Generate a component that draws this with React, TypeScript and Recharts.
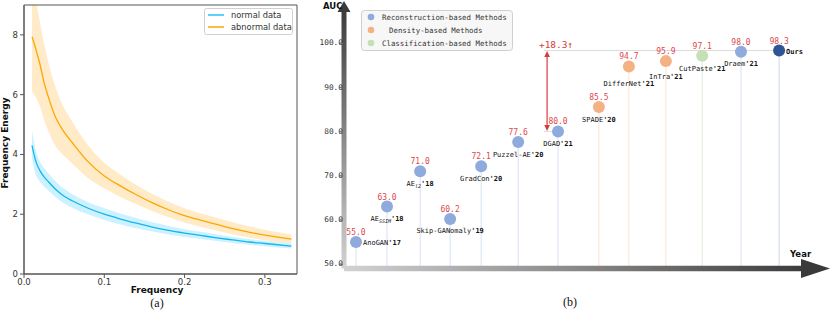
import React from 'react';
import { ComposedChart, Area, Line, XAxis, YAxis, ReferenceArea, ReferenceLine, ReferenceDot, Scatter } from 'recharts';

// ---------- Panel (a) data ----------
const freq = [0.01, 0.015, 0.02, 0.025, 0.03, 0.04, 0.05, 0.06, 0.08, 0.1, 0.12, 0.14, 0.16, 0.18, 0.2, 0.22, 0.24, 0.26, 0.28, 0.3, 0.333];
const normalMean = [4.3, 3.75, 3.45, 3.25, 3.1, 2.82, 2.6, 2.45, 2.2, 2.0, 1.84, 1.7, 1.57, 1.46, 1.37, 1.29, 1.21, 1.14, 1.07, 1.02, 0.93];
const normalUpper = [4.8, 4.1, 3.75, 3.55, 3.38, 3.08, 2.85, 2.68, 2.4, 2.2, 2.02, 1.87, 1.73, 1.61, 1.5, 1.41, 1.32, 1.24, 1.17, 1.11, 1.02];
const normalLower = [3.85, 3.3, 3.08, 2.93, 2.8, 2.55, 2.36, 2.22, 1.99, 1.81, 1.66, 1.53, 1.42, 1.32, 1.24, 1.17, 1.1, 1.04, 0.98, 0.93, 0.85];
const abnormalMean = [7.94, 7.5, 7.0, 6.4, 5.95, 5.2, 4.75, 4.4, 3.75, 3.28, 2.95, 2.65, 2.38, 2.15, 1.95, 1.8, 1.66, 1.52, 1.4, 1.3, 1.17];
const abnormalUpper = [9.8, 9.1, 8.4, 7.7, 7.1, 6.2, 5.55, 5.1, 4.3, 3.72, 3.33, 2.98, 2.68, 2.42, 2.2, 2.03, 1.88, 1.73, 1.6, 1.48, 1.33];
const abnormalLower = [6.1, 5.9, 5.6, 5.15, 4.8, 4.25, 3.95, 3.7, 3.2, 2.86, 2.58, 2.33, 2.1, 1.9, 1.72, 1.58, 1.45, 1.33, 1.22, 1.13, 1.02];
const xTicksA = [0, 0.1, 0.2, 0.3];
const yTicksA = [0, 2, 4, 6, 8];
const seriesNamesA = ['normal data', 'abnormal data'];

// ---------- Panel (b) data ----------
const methods = ['AnoGAN', 'AE_SSIM', 'AE_l2', 'Skip-GANomaly', 'GradCon', 'Puzzel-AE', 'DGAD', 'SPADE', 'DifferNet', 'InTra', 'CutPaste', 'Draem', 'Ours'];
const years = ["'17", "'18", "'18", "'19", "'20", "'20", "'21", "'20", "'21", "'21", "'21", "'21", ''];
const aucScores = [55.0, 63.0, 71.0, 60.2, 72.1, 77.6, 80.0, 85.5, 94.7, 95.9, 97.1, 98.0, 98.3];
const families = ['rec', 'rec', 'rec', 'rec', 'rec', 'rec', 'rec', 'den', 'den', 'den', 'cls', 'rec', 'ours'];
const timeline = [0, 0.88, 1.82, 2.67, 3.55, 4.6, 5.73, 6.89, 7.74, 8.79, 9.82, 10.92, 12];
const yTicksB = [50, 55, 60, 65, 70, 75, 80, 85, 90, 95, 100];
const legendB = ['Reconstruction-based Methods', 'Density-based Methods', 'Classification-based Methods'];

// ---------- styles ----------
const MONO = "'DejaVu Sans Mono', monospace";
const SANS = "'DejaVu Sans', sans-serif";
const SERIF = "'Liberation Serif', 'DejaVu Serif', serif";
const BLUE = '#13b4ef';
const ORANGE = '#ffa500';
const famColor: Record<string, string> = { rec: '#8faadc', den: '#f4b183', cls: '#c5e0b4', ours: '#2f5597' };
const stemColor: Record<string, string> = { rec: '#d6e0f3', den: '#fbe3d2', cls: '#deeed6', ours: '#c8d4ec' };
const RED = '#e0474c';
const AXIS_DARK = '#3a3a3a';
const Y_MIN_B = 48.98;
const Y_MAX_B = 107.24;
const X_MIN_B = -0.34;
const X_MAX_B = 12.65;
const rightLabelled = new Set(['AnoGAN', 'Ours']);
const nameShiftY: Record<string, number> = { DifferNet: 5.5, InTra: 3, CutPaste: 0.5 };

const dataA = freq.map((f, i) => ({
  f,
  nm: normalMean[i],
  nb: [normalLower[i], normalUpper[i]],
  am: abnormalMean[i],
  ab: [abnormalLower[i], abnormalUpper[i]],
}));

const dataB = methods.map((m, i) => ({
  name: m,
  year: years[i],
  auc: aucScores[i],
  fam: families[i],
  x: timeline[i],
}));

const ChartA = () => (
  <ComposedChart width={310} height={311} data={dataA} margin={{ top: 5, right: 13, bottom: 17, left: 0 }}>
    <XAxis
      dataKey="f"
      type="number"
      domain={[0, 0.34]}
      allowDataOverflow
      ticks={xTicksA}
      tickFormatter={(v: number) => v.toFixed(1)}
      height={20}
      tickSize={4}
      tickMargin={1}
      stroke="#555"
      tick={{ fontSize: 8.5, fill: '#333', fontFamily: SANS }}
    />
    <YAxis
      type="number"
      domain={[0, 9]}
      allowDataOverflow
      ticks={yTicksA}
      width={24}
      tickSize={4}
      tickMargin={2}
      stroke="#555"
      tick={{ fontSize: 8.5, fill: '#333', fontFamily: SANS }}
    />
    <Area dataKey="ab" type="monotone" fill={ORANGE} fillOpacity={0.22} stroke="none" isAnimationActive={false} />
    <Area dataKey="nb" type="monotone" fill="#00bfff" fillOpacity={0.2} stroke="none" isAnimationActive={false} />
    <Line dataKey="am" type="monotone" stroke={ORANGE} strokeWidth={1.3} dot={false} isAnimationActive={false} />
    <Line dataKey="nm" type="monotone" stroke={BLUE} strokeWidth={1.3} dot={false} isAnimationActive={false} />
    <ReferenceArea x1={0} x2={0.34} y1={0} y2={9} fill="none" stroke="#555" strokeWidth={1} ifOverflow="visible" />
  </ComposedChart>
);

const YTickB = (props: any) => {
  const { x, y, payload } = props;
  const v = payload.value as number;
  const major = v % 10 === 0;
  return (
    <g>
      <line x1={x - (major ? 4 : 3)} x2={x} y1={y + 0.5} y2={y + 0.5} stroke="#999" strokeWidth={1} />
      {major && (
        <text x={x} y={y} dy="0.3em" textAnchor="end" fontSize={7.8} fontFamily={MONO} fill="#333">
          {v.toFixed(1)}
        </text>
      )}
    </g>
  );
};

const PointShape = (props: any) => {
  const { cx, cy, payload } = props;
  if (cx == null || cy == null) return null;
  const color = famColor[payload.fam];
  const [base, sub] = String(payload.name).split('_');
  const right = rightLabelled.has(payload.name);
  const isOurs = payload.fam === 'ours';
  const shift = nameShiftY[payload.name] || 0;
  return (
    <g>
      <circle cx={cx} cy={cy} r={6} fill={color} />
      <text x={cx} y={cy - 7} textAnchor="middle" fontSize={8} fontFamily={MONO} fill={RED}>
        {payload.auc.toFixed(1)}
      </text>
      <text
        x={right ? cx + 7 : cx}
        y={right ? cy + 3 : cy + 14.5 + shift}
        textAnchor={right ? 'start' : 'middle'}
        fontSize={7}
        fontFamily={MONO}
        fill="#111"
        fontWeight={isOurs ? 'bold' : 'normal'}
      >
        <tspan>{base}</tspan>
        {sub && (
          <tspan fontSize={5} fontStyle="italic" dy={2}>
            {sub}
          </tspan>
        )}
        {payload.year && (
          <tspan fontWeight="bold" dy={sub ? -2 : 0}>
            {payload.year}
          </tspan>
        )}
      </text>
    </g>
  );
};

const gapLabel = `+${(aucScores[12] - aucScores[6]).toFixed(1)}\u2191`;

const GapArrow = (p: any) => {
  const { x1, y1, y2 } = p;
  const top = Math.min(y1, y2);
  const bot = Math.max(y1, y2);
  const c = '#d63b3b';
  return (
    <g>
      <line x1={x1} x2={x1} y1={top + 3} y2={bot - 3} stroke={c} strokeWidth={1.2} />
      <path d={`M${x1 - 2.8},${top + 6.5} L${x1},${top + 0.5} L${x1 + 2.8},${top + 6.5} Z`} fill={c} />
      <path d={`M${x1 - 2.8},${bot - 6.5} L${x1},${bot - 0.5} L${x1 + 2.8},${bot - 6.5} Z`} fill={c} />
      <text x={x1 + 9} y={top - 3} textAnchor="middle" fontSize={9.5} fontFamily={MONO} fill={c}>
        {gapLabel}
      </text>
    </g>
  );
};

const ArrowHeadUp = (p: any) => {
  const { cx, cy } = p;
  if (cx == null || cy == null) return null;
  return <path d={`M${cx - 6.5},${cy + 1} L${cx},${cy - 10} L${cx + 6.5},${cy + 1} Z`} fill={AXIS_DARK} />;
};

const ArrowHeadRight = (p: any) => {
  const { cx, cy } = p;
  if (cx == null || cy == null) return null;
  return <path d={`M${cx - 1},${cy - 9.5} L${cx + 28},${cy} L${cx - 1},${cy + 9.5} Z`} fill={AXIS_DARK} />;
};

const ChartB = () => (
  <ComposedChart width={521} height={311} margin={{ top: 11, right: 29, bottom: 42.5, left: 0 }}>
    <XAxis dataKey="x" type="number" domain={[X_MIN_B, X_MAX_B]} hide />
    <YAxis
      dataKey="auc"
      type="number"
      domain={[Y_MIN_B, Y_MAX_B]}
      ticks={yTicksB}
      width={34}
      tickSize={0}
      tickMargin={1}
      tickLine={false}
      tick={<YTickB />}
      axisLine={{ stroke: 'url(#gradY)', strokeWidth: 5 }}
    />
    {dataB.map((d) => (
      <ReferenceLine
        key={'stem' + d.name}
        segment={[{ x: d.x, y: Y_MIN_B }, { x: d.x, y: d.auc }]}
        stroke={stemColor[d.fam]}
        strokeWidth={1}
      />
    ))}
    <ReferenceLine y={Y_MIN_B} stroke="url(#gradX)" strokeWidth={5.5} ifOverflow="visible" />
    <ReferenceDot x={X_MAX_B} y={Y_MIN_B} ifOverflow="visible" shape={<ArrowHeadRight />} />
    <ReferenceDot x={X_MIN_B} y={Y_MAX_B} ifOverflow="visible" shape={<ArrowHeadUp />} />
    <ReferenceLine
      segment={[{ x: 5.33, y: aucScores[12] }, { x: timeline[12], y: aucScores[12] }]}
      stroke="#dcdcdc"
      strokeWidth={1}
    />
    <ReferenceLine
      segment={[{ x: 5.33, y: aucScores[6] }, { x: timeline[6], y: aucScores[6] }]}
      stroke="#dcdcdc"
      strokeWidth={1}
    />
    <ReferenceLine
      segment={[{ x: 5.42, y: aucScores[12] }, { x: 5.42, y: aucScores[6] }]}
      shape={<GapArrow />}
    />
    <Scatter data={dataB} shape={<PointShape />} isAnimationActive={false} />
  </ComposedChart>
);

export default function App() {
  return (
    <div style={{ position: 'absolute', left: 0, top: 0, width: 831, height: 311, background: '#fff', overflow: 'hidden' }}>
      <svg width={0} height={0} style={{ position: 'absolute', left: 0, top: 0 }}>
        <defs>
          <linearGradient id="gradX" gradientUnits="userSpaceOnUse" x1={34} y1={0} x2={492} y2={0}>
            <stop offset="0" stopColor="#d2d2d2" />
            <stop offset="0.5" stopColor="#8a8a8a" />
            <stop offset="1" stopColor="#3c3c3c" />
          </linearGradient>
          <linearGradient id="gradY" gradientUnits="userSpaceOnUse" x1={0} y1={11} x2={0} y2={268}>
            <stop offset="0" stopColor="#3c3c3c" />
            <stop offset="0.5" stopColor="#8a8a8a" />
            <stop offset="1" stopColor="#d2d2d2" />
          </linearGradient>
        </defs>
      </svg>
      <div style={{ position: 'absolute', left: 0, top: 0 }}>
        <ChartA />
      </div>
      <div style={{ position: 'absolute', left: 310, top: 0 }}>
        <ChartB />
      </div>
      <svg width={831} height={311} style={{ position: 'absolute', left: 0, top: 0, pointerEvents: 'none' }}>
        {/* Panel (a) texts and legend */}
        <text x={157} y={293} textAnchor="middle" fontSize={9} fontWeight="bold" fontFamily={SANS} fill="#111">Frequency</text>
        <text x={8} y={143} transform="rotate(-90 8 143)" textAnchor="middle" fontSize={9} fontWeight="bold" fontFamily={SANS} fill="#111">Frequency Energy</text>
        <text x={157} y={307} textAnchor="middle" fontSize={12} fontFamily={SERIF} fill="#111">(a)</text>
        <rect x={204.5} y={8.5} width={88} height={26} rx={2} fill="#fff" stroke="#d0d0d0" />
        <line x1={208} x2={224} y1={15} y2={15} stroke="#5fd0f7" strokeWidth={2} />
        <line x1={208} x2={224} y1={27} y2={27} stroke={ORANGE} strokeWidth={1.5} />
        <text x={231} y={18} fontSize={8.3} fontFamily={SANS} fill="#333">{seriesNamesA[0]}</text>
        <text x={231} y={30} fontSize={8.3} fontFamily={SANS} fill="#333">{seriesNamesA[1]}</text>
        {/* Panel (b) texts and legend */}
        <text x={323} y={9} fontSize={8.5} fontWeight="bold" fontFamily={SANS} fill="#111">AUC</text>
        <text x={790} y={257} fontSize={8.5} fontWeight="bold" fontFamily={SANS} fill="#111">Year</text>
        <text x={570} y={306} textAnchor="middle" fontSize={12} fontFamily={SERIF} fill="#111">(b)</text>
        <rect x={361.5} y={10.5} width={151} height={40} rx={3} fill="#f7f7f7" stroke="#cfcfcf" />
        {legendB.map((t, i) => (
          <g key={t}>
            <circle cx={371} cy={17 + i * 13} r={3.3} fill={famColor[['rec', 'den', 'cls'][i]]} />
            <text x={i === 1 ? 389 : 382} y={19.6 + i * 13} fontSize={7.4} fontFamily={MONO} fill="#333">{t}</text>
          </g>
        ))}
      </svg>
    </div>
  );
}
